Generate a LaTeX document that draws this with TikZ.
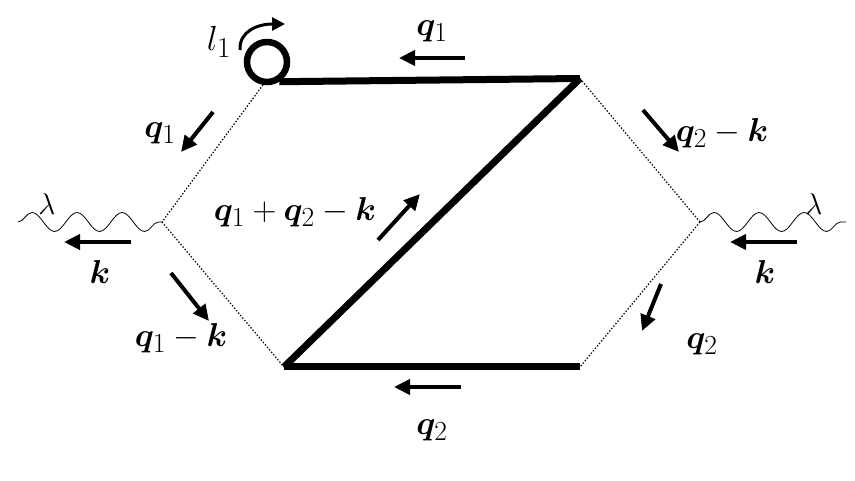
\documentclass[tikz,border=0pt]{standalone}
\usepackage{amsmath}
\usepackage{bm}
\usetikzlibrary{decorations.pathmorphing,arrows.meta}
\begin{document}
\begin{tikzpicture}[x=1pt,y=-1pt,
  prop/.style={line width=7pt},
  aux/.style={dash pattern=on 1.4pt off 1.8pt,line width=1.2pt},
  photon/.style={decorate,decoration={snake,amplitude=9.5pt,segment length=45pt},line width=0.8pt},
  mom/.style={line width=4pt,-{Triangle[length=16pt,width=15pt]}},
  lbl/.style={font=\Huge,scale=1.33,inner sep=0pt},
  greek/.style={font=\Huge,scale=1.2,inner sep=0pt}]
\useasboundingbox (0,0) rectangle (855,481);
% vertices
\node[circle,draw,line width=6.5pt,minimum size=40pt,inner sep=0pt] (loop) at (267,62) {};
\coordinate (B) at (580,78.5);
\coordinate (C) at (284,367);
\coordinate (D) at (580,367);
\coordinate (L) at (162,222);
\coordinate (R) at (700,222);
\coordinate (Lend) at (18,222);
\coordinate (Rend) at (846,222);
% dotted
\draw[aux] (loop.-100) -- (L);
\draw[aux] (L) -- (C);
\draw[aux] (B) -- (R);
\draw[aux] (R) -- (D);
% propagators
\draw[prop] (loop.-58) -- (B);
\draw[prop,line cap=butt] (B) -- (C);
\draw[prop] (C) -- (D);
% photons
\draw[photon] (Lend) -- (L);
\draw[photon] (R) -- (Rend);
\node[greek] (lamL) at (47,204) {$\lambda$};
\node[greek] (lamR) at (814,204) {$\lambda$};
% momentum arrows
\coordinate (a1s) at (131,242); \coordinate (a1e) at (64,242);
\draw[mom] (a1s) -- (a1e);
\node[lbl] (kL) at (100,272) {$\bm{k}$};
\coordinate (a2s) at (797,242); \coordinate (a2e) at (730,242);
\draw[mom] (a2s) -- (a2e);
\node[lbl] (kR) at (765,272) {$\bm{k}$};
\coordinate (a3s) at (465,58); \coordinate (a3e) at (399,58);
\draw[mom] (a3s) -- (a3e);
\node[lbl] (q1t) at (432,31) {$\bm{q}_1$};
\coordinate (a4s) at (213,112); \coordinate (a4e) at (181,152);
\draw[mom] (a4s) -- (a4e);
\node[lbl] (q1l) at (160,133) {$\bm{q}_1$};
\coordinate (a5s) at (171,273); \coordinate (a5e) at (209,321);
\draw[mom] (a5s) -- (a5e);
\node[lbl] (q1k) at (181,338) {$\bm{q}_1-\bm{k}$};
\coordinate (a6s) at (643,110); \coordinate (a6e) at (679,152);
\draw[mom] (a6s) -- (a6e);
\node[lbl] (q2k) at (722,133) {$\bm{q}_2-\bm{k}$};
\coordinate (a7s) at (661,284); \coordinate (a7e) at (642,331);
\draw[mom] (a7s) -- (a7e);
\node[lbl] (q2r) at (702,344) {$\bm{q}_2$};
\coordinate (a8s) at (461,387); \coordinate (a8e) at (394,387);
\draw[mom] (a8s) -- (a8e);
\node[lbl] (q2b) at (432,430) {$\bm{q}_2$};
\coordinate (a9s) at (378,240); \coordinate (a9e) at (420,194);
\draw[mom] (a9s) -- (a9e);
\node[lbl] (q12k) at (295,212) {$\bm{q}_1+\bm{q}_2-\bm{k}$};
% loop label
\node[font=\Huge,scale=1.4,inner sep=0pt] (l1) at (219,42) {$l_1$};
\coordinate (c1) at (240,50); \coordinate (c2) at (285,24);
\draw[line width=3pt,-{Triangle[length=13pt,width=13pt]}] (c1) .. controls (239,31) and (258,24) .. (c2);
\end{tikzpicture}
\end{document}
